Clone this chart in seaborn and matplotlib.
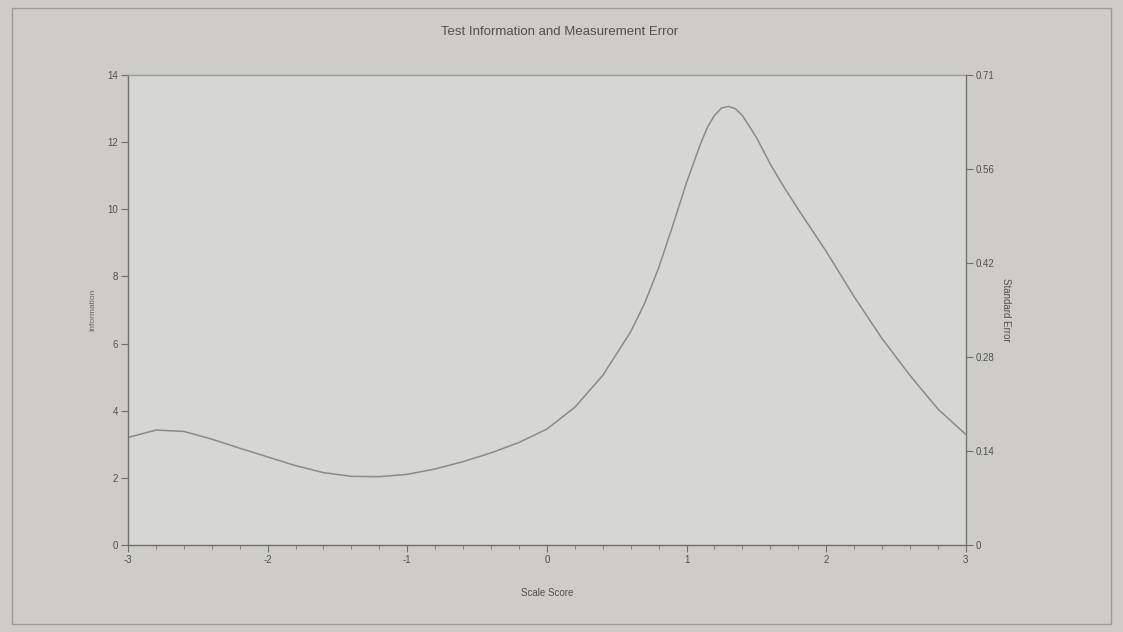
import numpy as np
import pandas as pd
import matplotlib
matplotlib.use('Agg')
import matplotlib.pyplot as plt
import seaborn as sns
from matplotlib.patches import Rectangle

#Values
scale_score = [-3.0, -2.8, -2.6, -2.4, -2.2, -2.0, -1.8, -1.6, -1.4, -1.2, -1.0, -0.8, -0.6, -0.4, -0.2,
               0.0, 0.2, 0.4, 0.6, 0.7, 0.8, 0.9, 1.0, 1.1, 1.15, 1.2, 1.25, 1.3, 1.35, 1.4, 1.5, 1.6, 1.7, 1.8,
               2.0, 2.2, 2.4, 2.6, 2.8, 3.0]
information = [3.20, 3.42, 3.38, 3.15, 2.88, 2.62, 2.36, 2.15, 2.04, 2.03, 2.10, 2.26, 2.48, 2.74, 3.05,
               3.45, 4.10, 5.05, 6.35, 7.20, 8.25, 9.50, 10.80, 11.95, 12.45, 12.80, 13.02, 13.07, 13.00, 12.80, 12.15, 11.35, 10.65, 10.00,
               8.75, 7.40, 6.15, 5.05, 4.05, 3.29]
x_ticks = [-3, -2, -1, 0, 1, 2, 3]
info_ticks = [0, 2, 4, 6, 8, 10, 12, 14]
se_ticks = [0, 0.142, 0.284, 0.426, 0.568, 0.71]
se_labels = ['0', '0.14', '0.28', '0.42', '0.56', '0.71']

data = pd.DataFrame({'Scale Score': scale_score, 'Information': information})

sns.set_style('white')
plt.rcParams['font.family'] = ['Liberation Sans', 'DejaVu Sans']
plt.rcParams['axes.unicode_minus'] = False

grey = '#6f6f6f'
txt = '#505050'
fig = plt.figure(figsize=(11.23, 6.32), dpi=100, facecolor='#cdccc7')
ax = fig.add_axes([0.114, 0.138, 0.746, 0.743])
ax.set_facecolor('#d6d6d2')

sns.lineplot(data=data, x='Scale Score', y='Information', ax=ax, color='#8a8a88', linewidth=1.1)

ax.set_xlim(-3, 3)
ax.set_ylim(0, 14)
ax.set_xticks(x_ticks)
ax.set_xticks(np.arange(-3, 3.01, 0.2), minor=True)
ax.set_yticks(info_ticks)
ax.tick_params(axis='both', which='major', length=5, width=0.8, color=grey, labelsize=7, labelcolor=txt, pad=2)
ax.tick_params(axis='x', which='minor', length=3, width=0.6, color=grey)
ax.tick_params(which='both', bottom=True, left=True)
for s in ax.spines.values():
    s.set_color('#9a9a98')
    s.set_linewidth(1.0)
ax.spines['left'].set_color(grey)
ax.spines['bottom'].set_color(grey)

ax.set_xlabel('Scale Score', fontsize=7, color=txt, labelpad=17)
ax.set_ylabel('Information', fontsize=6, color='#666666', labelpad=8)

ax2 = ax.twinx()
ax2.set_ylim(0, 0.71)
ax2.set_yticks(se_ticks)
ax2.set_yticklabels(se_labels)
ax2.tick_params(axis='y', length=5, width=0.8, color=grey, labelsize=7, labelcolor=txt, pad=2, right=True)
ax2.spines['right'].set_color(grey)
for s in ['left', 'top', 'bottom']:
    ax2.spines[s].set_visible(False)
ax2.set_ylabel('Standard Error', fontsize=7, color=txt, rotation=270, labelpad=12)

fig.text(0.498, 0.95, 'Test Information and Measurement Error', fontsize=9.5, color=txt, ha='center', va='center')

#Page border from the printout
fig.patches.append(Rectangle((0.011, 0.012), 0.978, 0.975, transform=fig.transFigure,
                             fill=False, edgecolor='#9a9a96', linewidth=1.0))

fig.savefig('out.png', dpi=100, facecolor=fig.get_facecolor())
